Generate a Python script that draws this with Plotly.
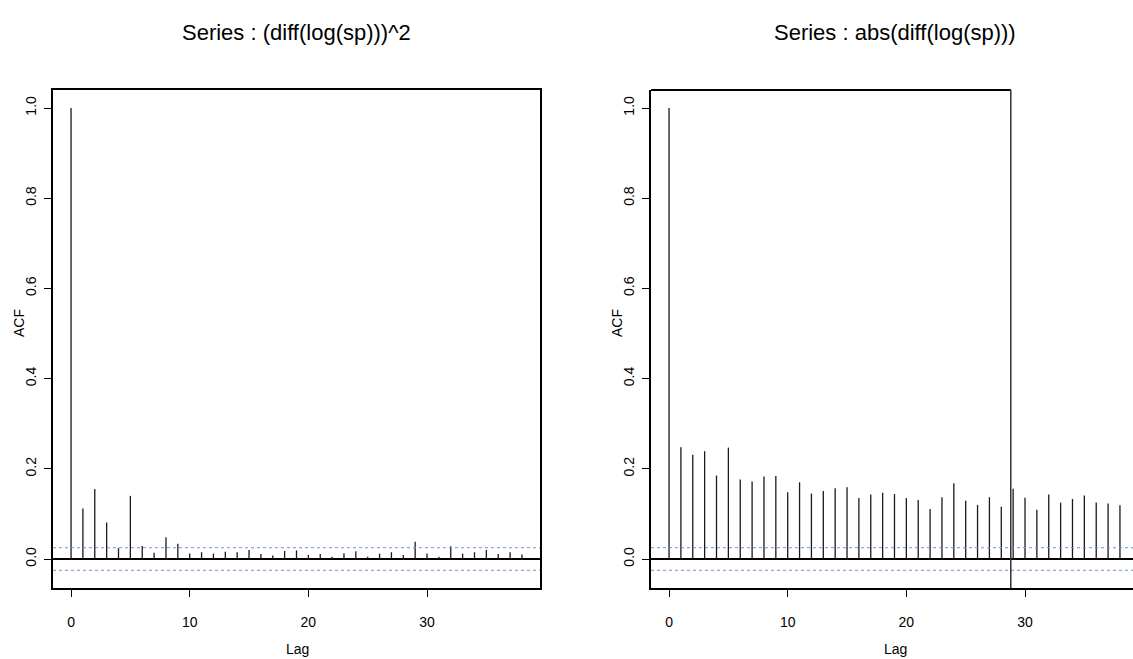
import plotly.graph_objects as go

lags = list(range(39))
acf_sq = [1.0, 0.112, 0.155, 0.081, 0.024, 0.140, 0.029, 0.014, 0.048, 0.034,
          0.012, 0.015, 0.012, 0.016, 0.015, 0.020, 0.011, 0.008, 0.018, 0.019,
          0.009, 0.011, 0.005, 0.013, 0.017, 0.005, 0.012, 0.015, 0.009, 0.038,
          0.012, 0.005, 0.028, 0.012, 0.015, 0.020, 0.011, 0.015, 0.010]
acf_abs = [1.0, 0.248, 0.231, 0.239, 0.185, 0.247, 0.176, 0.172, 0.183, 0.184,
           0.148, 0.170, 0.145, 0.151, 0.157, 0.159, 0.135, 0.143, 0.147, 0.144,
           0.135, 0.131, 0.111, 0.137, 0.168, 0.129, 0.120, 0.137, 0.116, 0.156,
           0.136, 0.109, 0.143, 0.125, 0.133, 0.141, 0.125, 0.123, 0.119]
conf = 0.025
titles = ["Series : (diff(log(sp)))^2", "Series : abs(diff(log(sp)))"]
xticks = [0, 10, 20, 30]
yticks = [0.0, 0.2, 0.4, 0.6, 0.8, 1.0]
ytick_text = ["0.0", "0.2", "0.4", "0.6", "0.8", "1.0"]

W, H = 1133, 659
NARROW = "Liberation Sans Narrow, Arial Narrow, Liberation Sans, sans-serif"
REG = "Liberation Sans, Arial, sans-serif"

def stems(xs, ys):
    sx, sy = [], []
    for x, y in zip(xs, ys):
        sx += [x, x, None]
        sy += [0, y, None]
    return sx, sy

fig = go.Figure()
for i, vals in enumerate([acf_sq, acf_abs]):
    sx, sy = stems(lags, vals)
    fig.add_trace(go.Scatter(x=sx, y=sy, mode="lines",
                             line=dict(color="#1a1a1a", width=1.3),
                             xaxis="x" if i == 0 else "x2",
                             yaxis="y" if i == 0 else "y2",
                             showlegend=False, hoverinfo="skip"))

ydom = [1 - 588 / H, 1 - 90 / H]
yrng = [-0.0643, 1.0399]
ax_common = dict(showgrid=False, showline=True, linecolor="black", linewidth=2,
                 ticks="outside", ticklen=7, tickwidth=1.2, tickcolor="black")
xax = dict(ax_common, tickvals=xticks, zeroline=False,
           tickfont=dict(family=NARROW, size=14, color="black"), ticklabelstandoff=13)
yax = dict(ax_common, tickvals=yticks, ticktext=ytick_text, tickangle=-90,
           zeroline=True, zerolinecolor="black", zerolinewidth=2,
           tickfont=dict(family=REG, size=14, color="black"), ticklabelstandoff=2,
           range=yrng, domain=ydom)

fig.update_layout(
    width=W, height=H, margin=dict(l=0, r=0, t=0, b=0),
    paper_bgcolor="white", plot_bgcolor="white",
    xaxis=dict(xax, domain=[53 / W, 540 / W], range=[-1.52, 39.52], anchor="y", mirror=True),
    yaxis=dict(yax, anchor="x", mirror=True),
    xaxis2=dict(xax, domain=[651 / W, 1.0], range=[-1.52, 39.10], anchor="y2"),
    yaxis2=dict(yax, anchor="x2"),
)

shapes = []
for xr, yr in [("x", "y"), ("x2", "y2")]:
    for yv in [conf, -conf]:
        shapes.append(dict(type="line", xref=xr + " domain", yref=yr, x0=0, x1=1, y0=yv, y1=yv,
                           line=dict(color="#6a93cf", width=1, dash="dot")))
# right panel: top border and cut line
shapes.append(dict(type="line", xref="x2", yref="y2 domain", x0=-1.52, x1=28.8, y0=1, y1=1,
                   line=dict(color="black", width=2)))
shapes.append(dict(type="line", xref="x2", yref="y2 domain", x0=28.8, x1=28.8, y0=0, y1=1,
                   line=dict(color="#333333", width=1.5)))
fig.update_layout(shapes=shapes)

ann = []
for cx, t in zip([296.5, 895], titles):
    ann.append(dict(text=t, x=cx / W, y=1 - 33 / H, xref="paper", yref="paper",
                    showarrow=False, xanchor="center", yanchor="middle",
                    font=dict(family=NARROW, size=22, color="black")))
for cx in [297, 895]:
    ann.append(dict(text="Lag", x=cx / W, y=1 - 649 / H, xref="paper", yref="paper",
                    showarrow=False, xanchor="center", yanchor="middle",
                    font=dict(family=NARROW, size=14, color="black")))
for cx in [19, 617]:
    ann.append(dict(text="ACF", x=cx / W, y=1 - 323 / H, xref="paper", yref="paper",
                    showarrow=False, xanchor="center", yanchor="middle", textangle=-90,
                    font=dict(family=REG, size=14, color="black")))
fig.update_layout(annotations=ann)

fig.write_html("out.html")
